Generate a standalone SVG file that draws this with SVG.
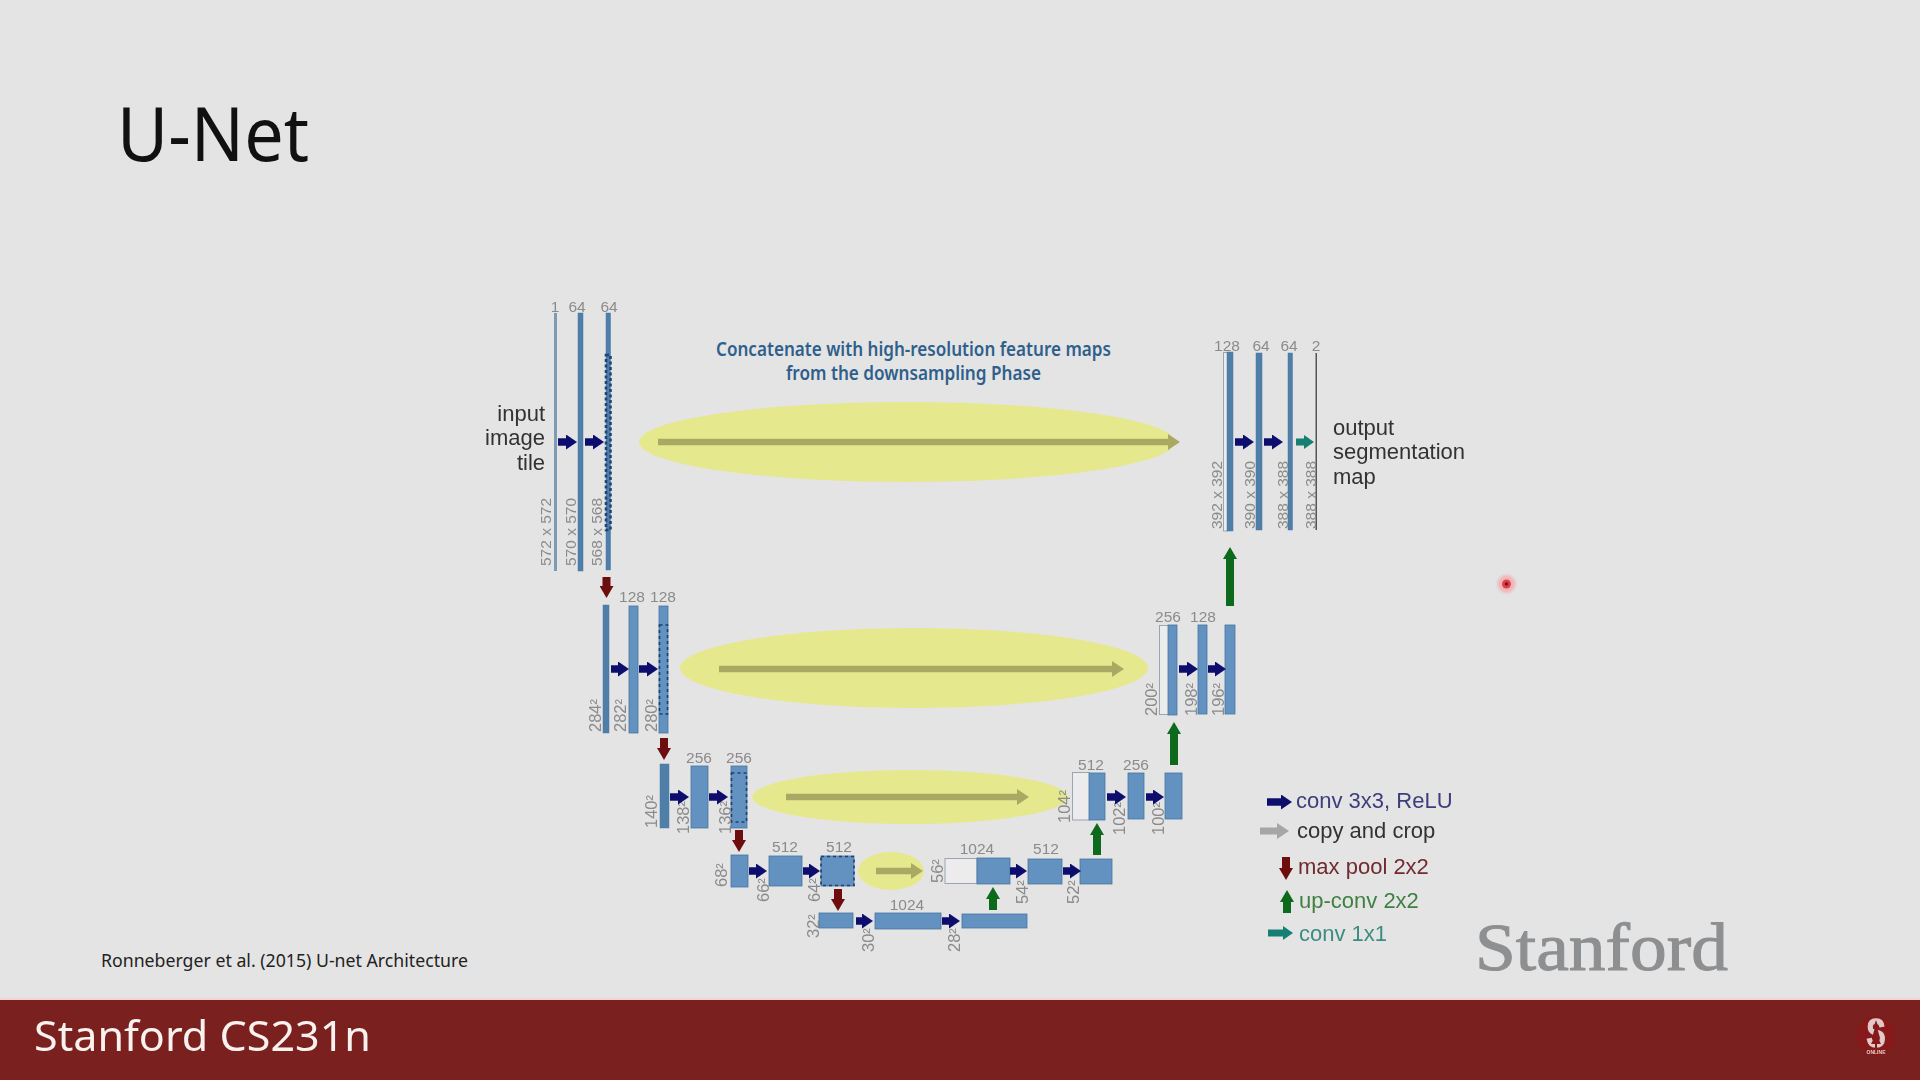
<svg xmlns="http://www.w3.org/2000/svg" width="1920" height="1080" viewBox="0 0 1920 1080">
<style>
.n{font-family:"Liberation Sans",Arial,sans-serif;font-size:15.500px;fill:#8b8b8b}
.q{font-size:16.500px}
.c{text-anchor:middle}
.l{font-family:"Liberation Sans",Arial,sans-serif;font-size:22px;fill:#333}
.s{font-family:"Noto Sans",sans-serif}
.b{fill:#6392c1;stroke:#46769f;stroke-width:.8}
.t{fill:#4f7ea8;stroke:#4a79a3;stroke-width:.5}
.w{fill:#ececec;stroke:#9aa5b2;stroke-width:1}
.d{fill:none;stroke:#1c3f73;stroke-width:1.6;stroke-dasharray:3 3}
.e{fill:#e6e88e}
.ab{stroke:#0b0b6e;stroke-width:7.500;marker-end:url(#hb);fill:none}
.ag{stroke:#a9a964;stroke-width:6.500;marker-end:url(#hy);fill:none}
.ar{stroke:#6e0c10;stroke-width:8;marker-end:url(#hr);fill:none}
.au{stroke:#0a6b1c;stroke-width:8;marker-end:url(#hu);fill:none}
.at{stroke:#167f73;stroke-width:7;marker-end:url(#ht);fill:none}
.ac{stroke:#a6a6a6;stroke-width:7;marker-end:url(#hc);fill:none}
</style>
<defs>
<filter id="soft" x="-5%" y="-5%" width="110%" height="110%"><feGaussianBlur stdDeviation="0.45"/></filter>
<filter id="glow" x="-50%" y="-50%" width="200%" height="200%"><feGaussianBlur stdDeviation="1.5"/></filter>
<marker id="hb" markerUnits="userSpaceOnUse" markerWidth="11" markerHeight="15" refX="0" refY="7.500" orient="auto"><path d="M0 0L11 7.500L0 15Z" fill="#0b0b6e"/></marker>
<marker id="hy" markerUnits="userSpaceOnUse" markerWidth="12" markerHeight="16" refX="0" refY="8" orient="auto"><path d="M0 0L12 8L0 16Z" fill="#a9a964"/></marker>
<marker id="hr" markerUnits="userSpaceOnUse" markerWidth="12" markerHeight="14" refX="0" refY="7" orient="auto"><path d="M0 0L12 7L0 14Z" fill="#6e0c10"/></marker>
<marker id="hu" markerUnits="userSpaceOnUse" markerWidth="12" markerHeight="14" refX="0" refY="7" orient="auto"><path d="M0 0L12 7L0 14Z" fill="#0a6b1c"/></marker>
<marker id="ht" markerUnits="userSpaceOnUse" markerWidth="10" markerHeight="14" refX="0" refY="7" orient="auto"><path d="M0 0L10 7L0 14Z" fill="#167f73"/></marker>
<marker id="hc" markerUnits="userSpaceOnUse" markerWidth="12" markerHeight="16" refX="0" refY="8" orient="auto"><path d="M0 0L12 8L0 16Z" fill="#a6a6a6"/></marker>
</defs>
<rect width="1920" height="1080" fill="#e4e4e4"/>
<text class="s" x="117" y="161" font-size="75" fill="#111" textLength="192" lengthAdjust="spacingAndGlyphs">U-Net</text>
<text class="s" x="101" y="967" font-size="18" fill="#222" textLength="367" lengthAdjust="spacingAndGlyphs">Ronneberger et al. (2015) U-net Architecture</text>
<text class="s" x="716" y="356" font-size="19" font-weight="600" fill="#2f5f8c" textLength="395" lengthAdjust="spacingAndGlyphs">Concatenate with high-resolution feature maps</text>
<text class="s" x="786" y="380" font-size="19" font-weight="600" fill="#2f5f8c" textLength="255" lengthAdjust="spacingAndGlyphs">from the downsampling Phase</text>
<g filter="url(#soft)">
<g id="bands">
<ellipse class="e" cx="907" cy="442" rx="268" ry="40"/>
<ellipse class="e" cx="914" cy="668" rx="234" ry="40"/>
<ellipse class="e" cx="910" cy="797" rx="158" ry="27"/>
<ellipse class="e" cx="891" cy="871" rx="33" ry="19"/>
</g>
<g id="n-down1">
<rect x="554" y="313" width="3" height="258" fill="#7f9ab3"/>
<rect class="t" x="578" y="313" width="5" height="258"/>
<rect class="t" x="606" y="313" width="4.500" height="257"/>
<rect x="606" y="355" width="4.500" height="175" fill="none" stroke="#1d4478" stroke-width="2.600" stroke-dasharray="3 2.500"/>
<text class="n c" x="555" y="312">1</text><text class="n c" x="577" y="312">64</text><text class="n c" x="609" y="312">64</text>
<text class="n" transform="translate(551 566) rotate(-90)">572 x 572</text>
<text class="n" transform="translate(576 566) rotate(-90)">570 x 570</text>
<text class="n" transform="translate(602 566) rotate(-90)">568 x 568</text>
</g>
<g id="n-down2">
<rect class="t" x="603" y="605" width="6" height="128"/>
<rect class="b" x="629" y="606" width="9" height="127"/>
<rect class="b" x="659" y="606" width="9" height="127"/>
<rect class="d" x="659.500" y="625" width="8" height="89"/>
<text class="n c" x="632" y="602">128</text><text class="n c" x="663" y="602">128</text>
<text class="n q" transform="translate(601 732) rotate(-90)">284²</text>
<text class="n q" transform="translate(626 732) rotate(-90)">282²</text>
<text class="n q" transform="translate(657 732) rotate(-90)">280²</text>
</g>
<g id="n-down3">
<rect class="t" x="660" y="764" width="9" height="64"/>
<rect class="b" x="691" y="766" width="17" height="62"/>
<rect class="b" x="731" y="766" width="16" height="62"/>
<rect class="d" x="731.500" y="773" width="15" height="49"/>
<text class="n c" x="699" y="763">256</text><text class="n c" x="739" y="763">256</text>
<text class="n q" transform="translate(657 828) rotate(-90)">140²</text>
<text class="n q" transform="translate(689 834) rotate(-90)">138²</text>
<text class="n q" transform="translate(731 834) rotate(-90)">136²</text>
</g>
<g id="n-down4">
<rect class="b" x="731" y="855" width="17" height="32"/>
<rect class="b" x="769" y="856" width="33" height="30"/>
<rect class="b" x="821" y="856" width="33" height="30"/>
<rect class="d" x="821" y="856.500" width="33" height="29"/>
<text class="n c" x="785" y="852">512</text><text class="n c" x="839" y="852">512</text>
<text class="n q" transform="translate(727 887) rotate(-90)">68²</text>
<text class="n q" transform="translate(769 902) rotate(-90)">66²</text>
<text class="n q" transform="translate(820 902) rotate(-90)">64²</text>
</g>
<g id="n-bottom">
<rect class="b" x="819" y="913" width="34" height="15"/>
<rect class="b" x="875" y="913" width="66" height="16"/>
<rect class="b" x="962" y="914" width="65" height="14"/>
<text class="n c" x="907" y="910">1024</text>
<text class="n q" transform="translate(819 938) rotate(-90)">32²</text>
<text class="n q" transform="translate(874 952) rotate(-90)">30²</text>
<text class="n q" transform="translate(960 952) rotate(-90)">28²</text>
</g>
<g id="n-up4">
<rect class="w" x="945" y="858.500" width="32" height="25"/>
<rect class="b" x="977" y="858" width="33" height="26"/>
<rect class="b" x="1028" y="859" width="34" height="25"/>
<rect class="b" x="1080" y="859" width="32" height="25"/>
<text class="n c" x="977" y="854">1024</text><text class="n c" x="1046" y="854">512</text>
<text class="n q" transform="translate(943 883) rotate(-90)">56²</text>
<text class="n q" transform="translate(1028 904) rotate(-90)">54²</text>
<text class="n q" transform="translate(1079 904) rotate(-90)">52²</text>
</g>
<g id="n-up3">
<rect class="w" x="1072.500" y="772.500" width="17" height="47.500"/>
<rect class="b" x="1089" y="773" width="16" height="47"/>
<rect class="b" x="1128" y="773" width="16" height="46"/>
<rect class="b" x="1165" y="773" width="17" height="46"/>
<text class="n c" x="1091" y="770">512</text><text class="n c" x="1136" y="770">256</text>
<text class="n q" transform="translate(1070 823) rotate(-90)">104²</text>
<text class="n q" transform="translate(1125 835) rotate(-90)">102²</text>
<text class="n q" transform="translate(1164 835) rotate(-90)">100²</text>
</g>
<g id="n-up2">
<rect class="w" x="1159.500" y="625.500" width="9" height="89"/>
<rect class="b" x="1168" y="625" width="9" height="90"/>
<rect class="b" x="1198" y="625" width="9" height="89"/>
<rect class="b" x="1225" y="625" width="10" height="89"/>
<text class="n c" x="1168" y="622">256</text><text class="n c" x="1203" y="622">128</text>
<text class="n q" transform="translate(1157 716) rotate(-90)">200²</text>
<text class="n q" transform="translate(1197 716) rotate(-90)">198²</text>
<text class="n q" transform="translate(1224 716) rotate(-90)">196²</text>
</g>
<g id="n-up1">
<rect class="w" x="1223.500" y="352.500" width="4" height="178.500"/>
<rect class="t" x="1227" y="352" width="6" height="179"/>
<rect class="t" x="1256" y="353" width="6" height="177"/>
<rect class="t" x="1288" y="353" width="4.500" height="177"/>
<rect x="1315.500" y="353" width="1.500" height="177" fill="#555"/>
<text class="n c" x="1227" y="351">128</text><text class="n c" x="1261" y="351">64</text><text class="n c" x="1289" y="351">64</text><text class="n c" x="1316" y="351">2</text>
<text class="n" transform="translate(1222 529) rotate(-90)">392 x 392</text>
<text class="n" transform="translate(1255 529) rotate(-90)">390 x 390</text>
<text class="n" transform="translate(1288 529) rotate(-90)">388 x 388</text>
<text class="n" transform="translate(1316 529) rotate(-90)">388 x 388</text>
</g>
<g id="connectors">
<line class="ag" x1="658" y1="442" x2="1168" y2="442"/>
<line class="ag" x1="719" y1="669" x2="1112" y2="669"/>
<line class="ag" x1="786" y1="797" x2="1017" y2="797"/>
<line class="ag" x1="876" y1="871" x2="911" y2="871"/>
<line class="ab" x1="558" y1="442" x2="566" y2="442"/><line class="ab" x1="585" y1="442" x2="593" y2="442"/>
<line class="ab" x1="611" y1="669" x2="618" y2="669"/><line class="ab" x1="639" y1="669" x2="647" y2="669"/>
<line class="ab" x1="670" y1="797" x2="678" y2="797"/><line class="ab" x1="709" y1="797" x2="717" y2="797"/>
<line class="ab" x1="749" y1="871" x2="756" y2="871"/><line class="ab" x1="803" y1="871" x2="809" y2="871"/>
<line class="ab" x1="856" y1="921" x2="862" y2="921"/><line class="ab" x1="942" y1="921" x2="949" y2="921"/>
<line class="ab" x1="1010" y1="871" x2="1016" y2="871"/><line class="ab" x1="1063" y1="871" x2="1070" y2="871"/>
<line class="ab" x1="1107" y1="797" x2="1115" y2="797"/><line class="ab" x1="1146" y1="797" x2="1153" y2="797"/>
<line class="ab" x1="1179" y1="669" x2="1187" y2="669"/><line class="ab" x1="1208" y1="669" x2="1215" y2="669"/>
<line class="ab" x1="1235" y1="442" x2="1243" y2="442"/><line class="ab" x1="1264" y1="442" x2="1272" y2="442"/>
<line class="at" x1="1296" y1="442" x2="1304" y2="442"/>
<line class="ar" x1="606.500" y1="577" x2="606.500" y2="586"/>
<line class="ar" x1="664" y1="738" x2="664" y2="748"/>
<line class="ar" x1="739" y1="830" x2="739" y2="840"/>
<line class="ar" x1="838" y1="889" x2="838" y2="899"/>
<line class="au" x1="993" y1="910" x2="993" y2="899"/>
<line class="au" x1="1097" y1="855" x2="1097" y2="835"/>
<line class="au" x1="1174" y1="765" x2="1174" y2="734"/>
<line class="au" x1="1230" y1="606" x2="1230" y2="559"/>
</g>
<g id="label-input">
<text class="l" text-anchor="end" x="545" y="421">input</text>
<text class="l" text-anchor="end" x="545" y="445">image</text>
<text class="l" text-anchor="end" x="545" y="470">tile</text>
</g>
<g id="label-output">
<text class="l" x="1333" y="435">output</text>
<text class="l" x="1333" y="459">segmentation</text>
<text class="l" x="1333" y="484">map</text>
</g>
<g id="legend">
<line class="ab" x1="1267" y1="802" x2="1281" y2="802"/>
<line class="ac" x1="1260" y1="831" x2="1277" y2="831"/>
<line class="ar" x1="1286" y1="857" x2="1286" y2="868"/>
<line class="au" x1="1287" y1="913" x2="1287" y2="902"/>
<line class="at" x1="1268" y1="933" x2="1283" y2="933"/>
<text class="l" x="1296" y="808" style="fill:#3d3d7d">conv 3x3, ReLU</text>
<text class="l" x="1297" y="838">copy and crop</text>
<text class="l" x="1298" y="874" style="fill:#6f2a30">max pool 2x2</text>
<text class="l" x="1299" y="908" style="fill:#3f8042">up-conv 2x2</text>
<text class="l" x="1299" y="941" style="fill:#3c8c80">conv 1x1</text>
</g>
</g>
<g id="pointer">
<circle cx="1506.500" cy="584" r="9" fill="#f2b4b8" filter="url(#glow)"/>
<circle cx="1506.500" cy="584" r="4.500" fill="#e0404a"/>
<circle cx="1506.500" cy="584" r="1.800" fill="#7a1018"/>
</g>
<text x="1475" y="970" font-family="'Liberation Serif',serif" font-size="68" fill="#8d8f91" stroke="#8d8f91" stroke-width="1" textLength="253" lengthAdjust="spacingAndGlyphs">Stanford</text>
<rect y="998" width="1920" height="2" fill="#f2d4d2"/>
<rect y="1000" width="1920" height="80" fill="#7a201e"/>
<text class="s" x="34" y="1051" font-size="41" fill="#fbf1ee" textLength="337" lengthAdjust="spacingAndGlyphs">Stanford CS231n</text>
<g id="logo">
<circle cx="1876" cy="1036" r="19.500" fill="#86191a"/>
<text x="1876" y="1047" text-anchor="middle" font-family="'Liberation Sans',sans-serif" font-weight="700" font-size="40" fill="#e2c9c9" stroke="#e2c9c9" stroke-width="1.500" textLength="19" lengthAdjust="spacingAndGlyphs">S</text>
<path d="M1876 1020L1879 1029L1877.500 1029L1880 1038L1878 1038L1881 1044L1877 1044L1877 1049L1875 1049L1875 1044L1871 1044L1874 1038L1872 1038L1874.500 1029L1873 1029Z" fill="#86191a"/>
<text x="1876" y="1053.500" text-anchor="middle" font-family="'Liberation Sans',sans-serif" font-weight="700" font-size="5" fill="#e2c9c9" textLength="19">ONLINE</text>
</g>
</svg>
